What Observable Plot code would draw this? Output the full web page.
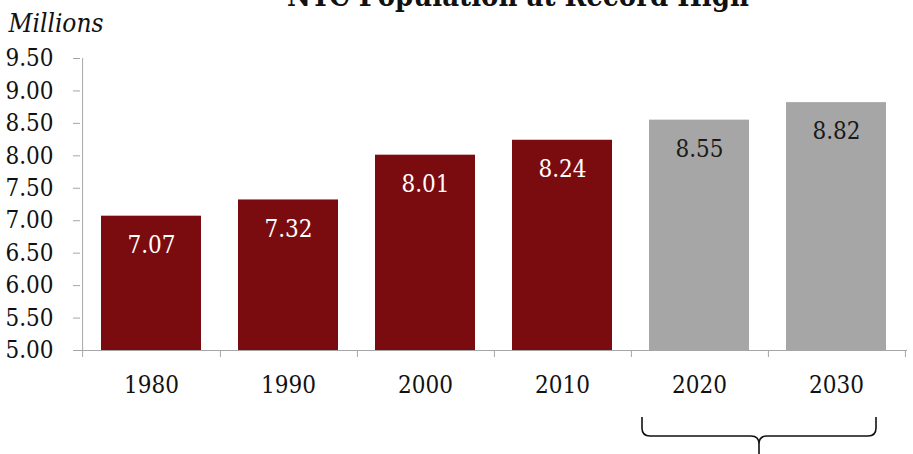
<!DOCTYPE html>
<html><head><meta charset="utf-8">
<script src="https://cdn.jsdelivr.net/npm/d3@7"></script>
<script src="https://cdn.jsdelivr.net/npm/@observablehq/plot@0.6"></script>
<style>body{margin:0;background:#fff;}</style>
</head><body><div id="chart"></div>
<script>
const years = ["1980","1990","2000","2010","2020","2030"];
const population = [7.07, 7.32, 8.01, 8.24, 8.55, 8.82];
const kinds = ["actual","actual","actual","actual","projected","projected"];
const yTicks = [5.0, 5.5, 6.0, 6.5, 7.0, 7.5, 8.0, 8.5, 9.0, 9.5];
const title = "NYC Population at Record High";
const yLabel = "Millions";
const barColors = {actual: "#7a0c10", projected: "#a6a6a6"};
const labelColors = {actual: "#ffffff", projected: "#1a1a1a"};

const data = years.map((y, i) => ({year: y, value: population[i], kind: kinds[i]}));

const W = 913, H = 454, mL = 80, mR = 6, mT = 58, mB = 104;
const step = (W - mL - mR) / years.length;
const axisGray = "#a6a6a6";
const font = '"DejaVu Serif Condensed","DejaVu Serif",serif';

const plot = Plot.plot({
  width: W, height: H,
  marginLeft: mL, marginRight: mR, marginTop: mT, marginBottom: mB,
  style: {fontFamily: font, fontSize: "24px", background: "#fff", color: "#111", overflow: "visible"},
  x: {domain: years, paddingInner: 0.27, paddingOuter: 0.135, label: null},
  y: {domain: [5, 9.5], label: null},
  marks: [
    Plot.barY(data, {x: "year", y1: 5, y2: "value", fill: d => barColors[d.kind]}),
    Plot.ruleY([5], {stroke: axisGray}),
    Plot.ruleX([years[0]], {dx: -step / 2, y1: 9.5, y2: 5, insetBottom: -7, stroke: axisGray}),
    Plot.ruleX(years, {x: d => d, dx: step / 2, y1: 5, y2: 5, insetBottom: -7, stroke: axisGray}),
    Plot.axisY({ticks: yTicks, tickFormat: d => d.toFixed(2), tickSize: 7, tickPadding: 20, stroke: axisGray, fill: "#111", fontSize: 24, label: null}),
    Plot.axisX({tickSize: 0, tickPadding: 25, fill: "#111", fontSize: 24, label: null}),
    Plot.text(data, {x: "year", y: "value", text: d => d.value.toFixed(2), dy: 29, fill: d => labelColors[d.kind], fontSize: 24}),
    Plot.text([title], {text: d => d, frameAnchor: "top", dx: 24, dy: -73, fontWeight: "bold", fontSize: 29}),
    Plot.text([yLabel], {text: d => d, frameAnchor: "top-left", dx: -72, dy: -44.5, textAnchor: "start", fontStyle: "italic", fontSize: 26})
  ]
});
document.getElementById("chart").appendChild(plot);

// curly brace under the projected years
const xs = plot.scale("x");
const ys = plot.scale("y");
const projected = data.filter(d => d.kind === "projected").map(d => d.year);
const bLeft = xs.apply(projected[0]) - 7;
const bRight = xs.apply(projected[projected.length - 1]) + xs.bandwidth - 10;
const bMid = (bLeft + bRight) / 2;
const base = ys.apply(5);
const bTop = base + 67, bBar = base + 86, bTip = base + 110;
const r = 8;
const path = `M${bLeft},${bTop} L${bLeft},${bBar - r} Q${bLeft},${bBar} ${bLeft + r},${bBar} L${bMid - r},${bBar} Q${bMid},${bBar} ${bMid},${bBar + r} L${bMid},${bTip}
M${bRight},${bTop} L${bRight},${bBar - r} Q${bRight},${bBar} ${bRight - r},${bBar} L${bMid + r},${bBar} Q${bMid},${bBar} ${bMid},${bBar + r}`;
d3.select(plot).append("path").attr("d", path).attr("fill", "none").attr("stroke", "#111").attr("stroke-width", 1.6);
</script>
</body></html>
